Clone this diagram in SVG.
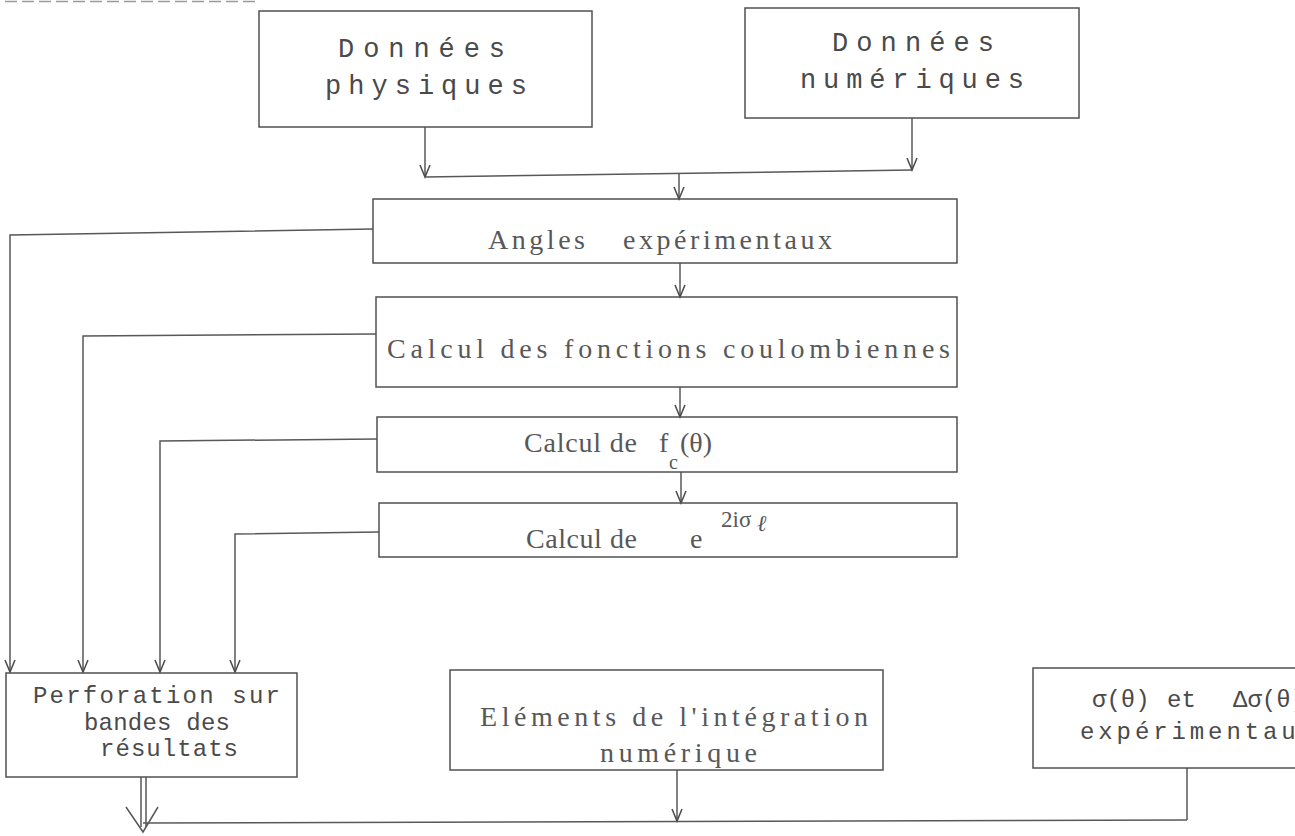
<svg xmlns="http://www.w3.org/2000/svg" width="1295" height="836" viewBox="0 0 1295 836">
<style>
.bx{fill:none;stroke:#505050;stroke-width:1.5}
.ln{fill:none;stroke:#585858;stroke-width:1.5}
.t{font-family:"Liberation Serif",serif;font-size:28px;fill:#585858}
.m{font-family:"Liberation Mono",monospace;font-size:27px;fill:#4a4a4a}
.s{font-family:"Liberation Mono",monospace;font-size:24px;fill:#4a4a4a}
</style>
<defs>
<marker id="arr" markerUnits="userSpaceOnUse" markerWidth="16" markerHeight="14" refX="13" refY="6" orient="auto">
<path d="M1,1 L13,6 L1,11" fill="none" stroke="#4a4a4a" stroke-width="1.5"/>
</marker>
</defs>
<rect width="1295" height="836" fill="#fff"/>
<path d="M5,1.5 H258" fill="none" stroke="#9a9a9a" stroke-width="1.5" stroke-dasharray="12 5"/>
<g id="connectors">
<path class="ln" d="M425,127 V177" marker-end="url(#arr)"/>
<path class="ln" d="M912,118 V170" marker-end="url(#arr)"/>
<path class="ln" d="M425,177 L912,170"/>
<path class="ln" d="M679,173 V199" marker-end="url(#arr)"/>
<path class="ln" d="M680,263 V297" marker-end="url(#arr)"/>
<path class="ln" d="M680,387 V417" marker-end="url(#arr)"/>
<path class="ln" d="M681,472 V503" marker-end="url(#arr)"/>
<path class="ln" d="M373,229 L10,235 V672" marker-end="url(#arr)"/>
<path class="ln" d="M376,334 L83,336 V672" marker-end="url(#arr)"/>
<path class="ln" d="M377,439 L160,441 V672" marker-end="url(#arr)"/>
<path class="ln" d="M379,532 L235,534 V672" marker-end="url(#arr)"/>
<path class="ln" d="M141,777 V827 M146,777 V827"/>
<path class="ln" d="M126,807 L143,832 L158,807"/>
<path class="ln" d="M143,823 L1187,820"/>
<path class="ln" d="M677,770 V821" marker-end="url(#arr)"/>
<path class="ln" d="M1187,768 V820"/>
</g>
<g id="donnees-physiques">
<rect class="bx" x="259" y="11" width="333" height="116"/>
<text class="m" x="338" y="57" textLength="167" lengthAdjust="spacing">Données</text>
<text class="m" x="325" y="94" textLength="202" lengthAdjust="spacing">physiques</text>
</g>
<g id="donnees-numeriques">
<rect class="bx" x="745" y="8" width="334" height="110"/>
<text class="m" x="832" y="51" textLength="162" lengthAdjust="spacing">Données</text>
<text class="m" x="800" y="88" textLength="224" lengthAdjust="spacing">numériques</text>
</g>
<g id="angles">
<rect class="bx" x="373" y="199" width="584" height="64"/>
<text class="t" y="249"><tspan x="488" textLength="97" lengthAdjust="spacing">Angles</tspan><tspan x="623" textLength="209" lengthAdjust="spacing">expérimentaux</tspan></text>
</g>
<g id="fonctions">
<rect class="bx" x="376" y="297" width="581" height="90"/>
<text class="t" x="387" y="358" textLength="563" lengthAdjust="spacing">Calcul des fonctions coulombiennes</text>
</g>
<g id="calcul-fc">
<rect class="bx" x="377" y="417" width="580" height="55"/>
<text class="t" y="452"><tspan x="524" textLength="113" lengthAdjust="spacing">Calcul de</tspan><tspan x="659">f</tspan><tspan x="669" dy="17" font-size="20">c</tspan><tspan x="680" dy="-17">(θ)</tspan></text>
</g>
<g id="calcul-e">
<rect class="bx" x="379" y="503" width="578" height="54"/>
<text class="t" y="548"><tspan x="526" textLength="111" lengthAdjust="spacing">Calcul de</tspan><tspan x="690">e</tspan><tspan x="721" dy="-21" font-size="23">2iσ</tspan><tspan x="757" dy="4" font-size="23" font-style="italic">ℓ</tspan></text>
</g>
<g id="perforation">
<rect class="bx" x="6" y="673" width="291" height="104"/>
<text class="s" x="33" y="703" textLength="247" lengthAdjust="spacing">Perforation sur</text>
<text class="s" x="84" y="730" textLength="146" lengthAdjust="spacing">bandes des</text>
<text class="s" x="100" y="756" textLength="138" lengthAdjust="spacing">résultats</text>
</g>
<g id="elements">
<rect class="bx" x="450" y="670" width="433" height="100"/>
<text class="t" x="480" y="726" textLength="388" lengthAdjust="spacing">Eléments de l'intégration</text>
<text class="t" x="600" y="762" textLength="157" lengthAdjust="spacing">numérique</text>
</g>
<g id="sigma">
<rect class="bx" x="1033" y="668" width="300" height="100"/>
<text class="s" y="707"><tspan x="1092">σ(θ)</tspan><tspan x="1167">et</tspan><tspan x="1233">Δσ(θ)</tspan></text>
<text class="s" x="1080" y="739" textLength="234" lengthAdjust="spacing">expérimentaux</text>
</g>
</svg>
